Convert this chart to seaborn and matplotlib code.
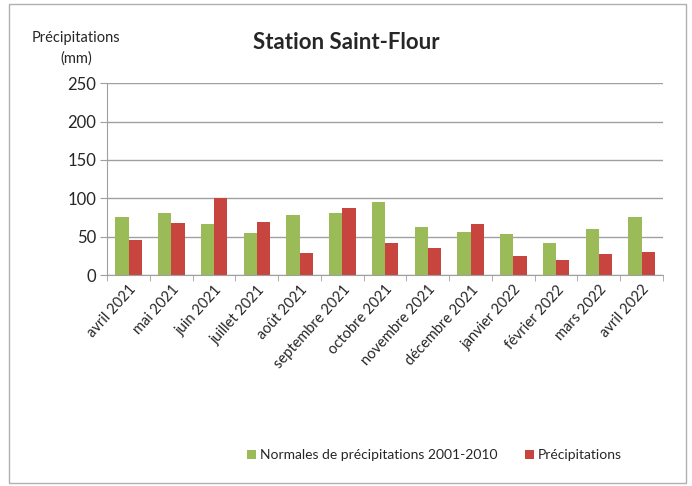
import pandas as pd
import matplotlib.pyplot as plt
import seaborn as sns
import numpy as np
from matplotlib.patches import Rectangle

months = ['avril 2021', 'mai 2021', 'juin 2021', 'juillet 2021', 'août 2021',
          'septembre 2021', 'octobre 2021', 'novembre 2021', 'décembre 2021',
          'janvier 2022', 'février 2022', 'mars 2022', 'avril 2022']
normales = [76, 81, 66, 55, 78, 81, 95, 63, 56, 53, 42, 60, 76]
precip = [46, 68, 101, 69, 29, 88, 42, 35, 66, 25, 20, 28, 30]
series_names = ['Normales de précipitations 2001-2010', 'Précipitations']

sns.set_style('white')
plt.rcParams['font.family'] = ['Lato', 'DejaVu Sans']

df = pd.DataFrame({'mois': months * 2,
                   'valeur': normales + precip,
                   'serie': [series_names[0]] * len(months) + [series_names[1]] * len(months)})

fig = plt.figure(figsize=(6.92, 4.86), dpi=100)
ax = fig.add_axes([0.155, 0.434, 0.803, 0.395])
sns.barplot(data=df, x='mois', y='valeur', hue='serie', ax=ax, width=0.62,
            palette=['#9BBB59', '#C8453F'], saturation=1, gap=0.0, linewidth=0)

ax.set_ylim(0, 250)
ax.set_yticks(range(0, 251, 50))
ax.set_xlim(-0.5, len(months) - 0.5)
ax.grid(axis='y', color='#a0a0a0', linewidth=1)
ax.set_axisbelow(True)
for s in ['top', 'right']:
    ax.spines[s].set_visible(False)
for s in ['left', 'bottom']:
    ax.spines[s].set_color('#a0a0a0')
ax.set_xlabel('')
ax.set_ylabel('')
ax.tick_params(axis='y', left=True, length=5, color='#a0a0a0', labelsize=12, pad=3)
ax.tick_params(axis='x', which='major', bottom=False, labelsize=10.5, pad=2)
ax.set_xticks(np.arange(-0.5, len(months)), minor=True)
ax.tick_params(axis='x', which='minor', bottom=True, length=4, color='#a0a0a0')
plt.setp(ax.get_xticklabels(), rotation=48, ha='right', rotation_mode='anchor')

ax.legend(loc='center', bbox_to_anchor=(0.628, 0.063), bbox_transform=fig.transFigure,
          ncol=2, frameon=False, fontsize=10, handlelength=0.6, handleheight=0.6,
          handletextpad=0.3, columnspacing=2.0)

fig.text(0.5, 0.912, 'Station Saint-Flour', ha='center', va='center',
         fontsize=16, fontweight='bold')
fig.text(0.11, 0.9, 'Précipitations\n(mm)', ha='center', va='center',
         fontsize=10.5, linespacing=1.6)

fig.patches.append(Rectangle((0.013, 0.006), 0.978, 0.985, transform=fig.transFigure,
                             fill=False, edgecolor='#b0b0b0', linewidth=1))

fig.savefig('out.png', dpi=100)
